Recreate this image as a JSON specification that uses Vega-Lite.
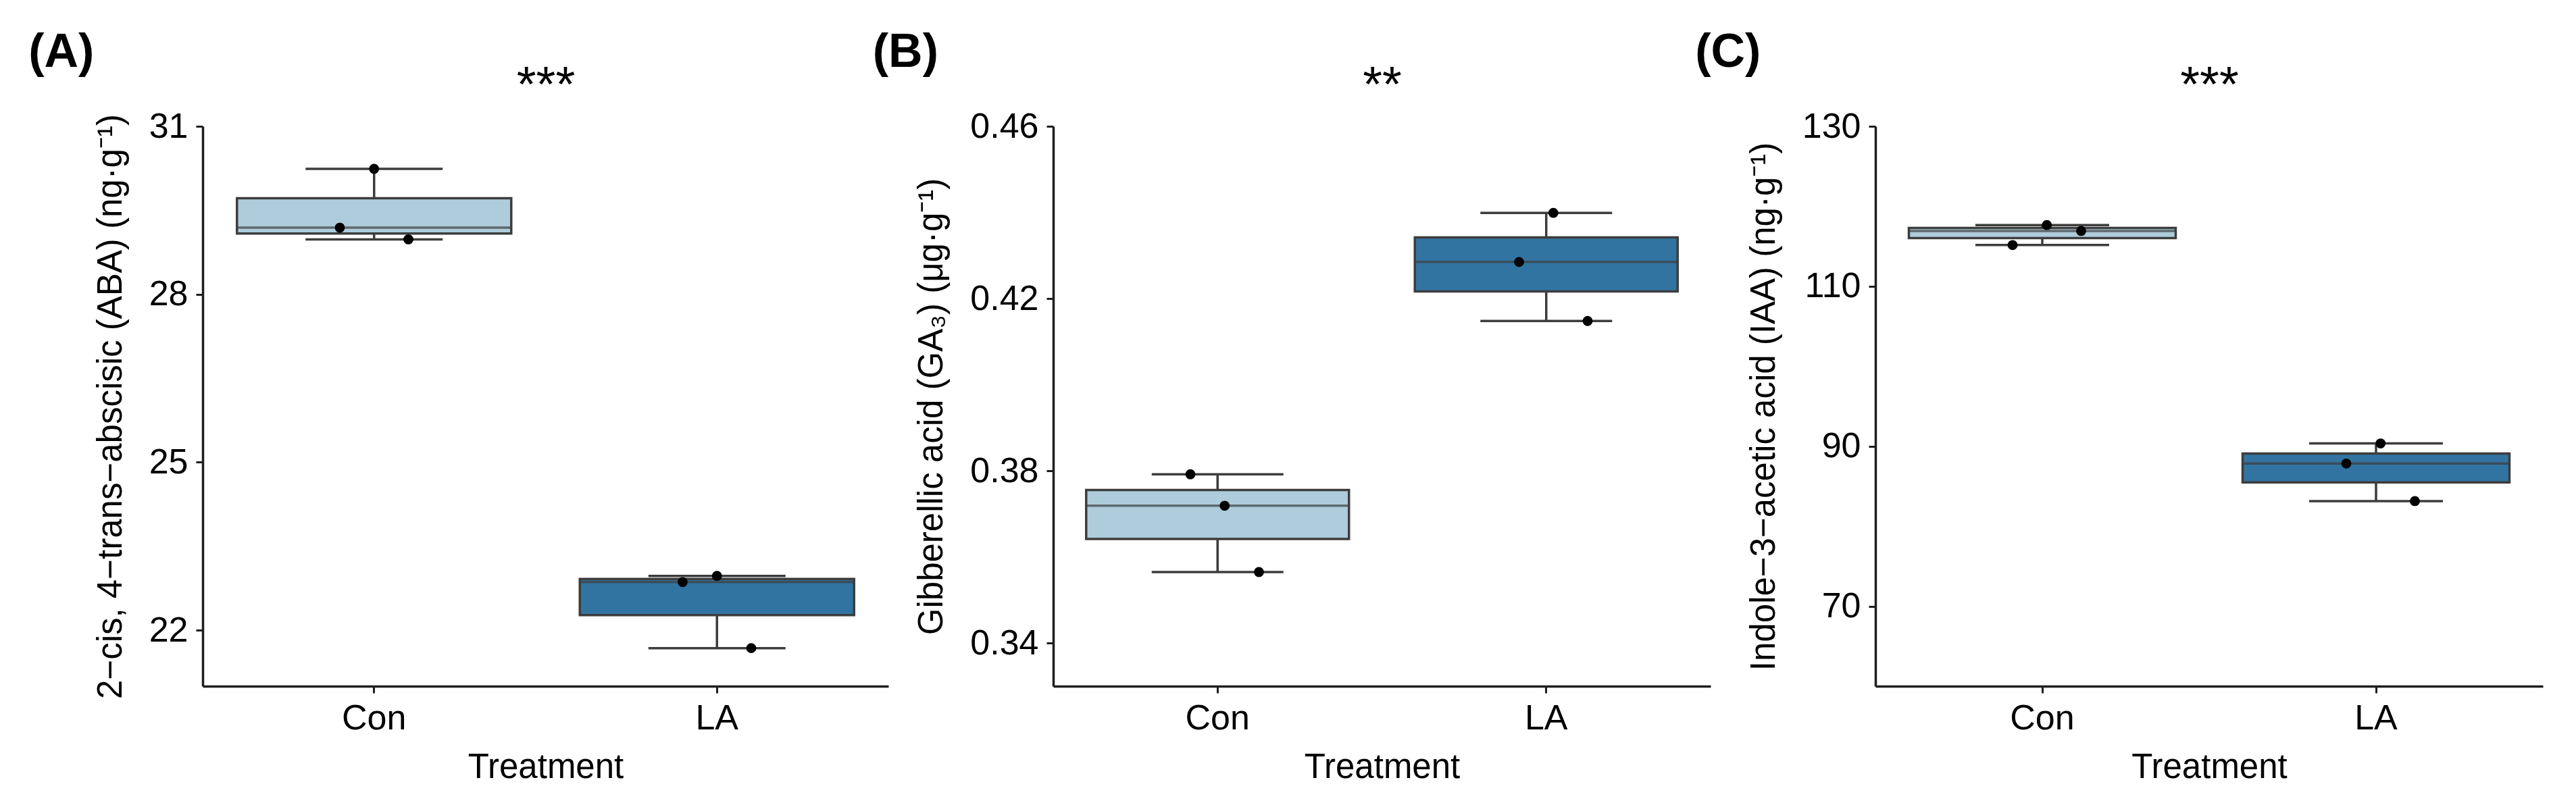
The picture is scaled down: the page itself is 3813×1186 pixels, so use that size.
{
  "$schema": "https://vega.github.io/schema/vega-lite/v6.json",
  "background": "white",
  "padding": {"left": 42, "top": 43, "right": 10, "bottom": 10},
  "datasets": {
    "hormones": [
      {"panel": "A", "Treatment": "Con", "rep": 2, "value": 30.24},
      {"panel": "A", "Treatment": "Con", "rep": 1, "value": 29.19},
      {"panel": "A", "Treatment": "Con", "rep": 3, "value": 28.98},
      {"panel": "A", "Treatment": "LA", "rep": 2, "value": 22.97},
      {"panel": "A", "Treatment": "LA", "rep": 1, "value": 22.86},
      {"panel": "A", "Treatment": "LA", "rep": 3, "value": 21.68},
      {"panel": "B", "Treatment": "Con", "rep": 1, "value": 0.3792},
      {"panel": "B", "Treatment": "Con", "rep": 2, "value": 0.3719},
      {"panel": "B", "Treatment": "Con", "rep": 3, "value": 0.3565},
      {"panel": "B", "Treatment": "LA", "rep": 2, "value": 0.4399},
      {"panel": "B", "Treatment": "LA", "rep": 1, "value": 0.4285},
      {"panel": "B", "Treatment": "LA", "rep": 3, "value": 0.4148},
      {"panel": "C", "Treatment": "Con", "rep": 2, "value": 117.66},
      {"panel": "C", "Treatment": "Con", "rep": 3, "value": 116.92},
      {"panel": "C", "Treatment": "Con", "rep": 1, "value": 115.15},
      {"panel": "C", "Treatment": "LA", "rep": 2, "value": 90.35},
      {"panel": "C", "Treatment": "LA", "rep": 1, "value": 87.84},
      {"panel": "C", "Treatment": "LA", "rep": 3, "value": 83.14}
    ]
  },
  "config": {
    "font": "Liberation Sans",
    "view": {"stroke": null},
    "axis": {
      "grid": false,
      "domainColor": "#1e1e1e",
      "domainWidth": 3.5,
      "tickColor": "#1e1e1e",
      "tickWidth": 3,
      "tickSize": 10,
      "labelFontSize": 52,
      "labelColor": "black",
      "labelPadding": 12,
      "titleFontSize": 51,
      "titleFontWeight": "normal",
      "titleColor": "black"
    },
    "axisX": {"labelAngle": 0, "titlePadding": 22},
    "axisY": {"titlePadding": 30},
    "title": {"color": "black", "fontSize": 70, "fontWeight": "bold", "anchor": "start", "offset": -24}
  },
  "bounds": "flush",
  "spacing": 244,
  "hconcat": [
    {
      "title": {"text": "(A)", "dx": -96},
      "width": 1015,
      "height": 829,
      "data": {"name": "hormones"},
      "transform": [{"filter": "datum.panel === 'A'"}],
      "encoding": {
        "y": {"field": "value", "type": "quantitative", "scale": {"domain": [21, 31], "zero": false, "nice": false}, "axis": {"values": [22, 25, 28, 31], "title": "2−cis, 4−trans−abscisic (ABA) (ng·g⁻¹)"}}
      },
      "layer": [
        {
          "mark": {"type": "boxplot", "extent": "min-max", "size": 406, "outliers": false,
            "box": {"stroke": "#3d3d3d", "strokeWidth": 3.5},
            "median": {"color": "#3d3d3d", "thickness": 3.5},
            "rule": {"color": "#3d3d3d", "strokeWidth": 3.5},
            "ticks": {"color": "#3d3d3d", "size": 203, "thickness": 3.5}},
          "encoding": {
            "x": {"field": "Treatment", "type": "nominal", "sort": ["Con", "LA"], "scale": {"paddingInner": 0, "paddingOuter": 0}, "axis": {"title": "Treatment"}},
            "color": {"field": "Treatment", "type": "nominal", "scale": {"domain": ["Con", "LA"], "range": ["#aeccdb", "#3274a1"]}, "legend": null}
          }
        },
        {
          "mark": {"type": "circle", "color": "black", "size": 220, "opacity": 1},
          "encoding": {
            "x": {"field": "Treatment", "type": "nominal", "sort": ["Con", "LA"], "axis": {"orient": "top", "title": "***", "labels": false, "ticks": false, "domain": false, "minExtent": 0, "titleFontSize": 74, "titlePadding": 22}},
            "xOffset": {"field": "rep", "type": "nominal", "scale": {"domain": [-3, -2, -1, 0, 1, 2, 3, 4, 5, 6, 7], "paddingInner": 0, "paddingOuter": 0}}
          }
        }
      ],
      "resolve": {"axis": {"x": "independent"}}
    },
    {
      "title": {"text": "(B)", "dx": -62},
      "width": 973,
      "height": 829,
      "data": {"name": "hormones"},
      "transform": [{"filter": "datum.panel === 'B'"}],
      "encoding": {
        "y": {"field": "value", "type": "quantitative", "scale": {"domain": [0.33, 0.46], "zero": false, "nice": false}, "axis": {"values": [0.34, 0.38, 0.42, 0.46], "format": ".2f", "title": "Gibberellic acid (GA₃) (μg·g⁻¹)"}}
      },
      "layer": [
        {
          "mark": {"type": "boxplot", "extent": "min-max", "size": 389, "outliers": false,
            "box": {"stroke": "#3d3d3d", "strokeWidth": 3.5},
            "median": {"color": "#3d3d3d", "thickness": 3.5},
            "rule": {"color": "#3d3d3d", "strokeWidth": 3.5},
            "ticks": {"color": "#3d3d3d", "size": 195, "thickness": 3.5}},
          "encoding": {
            "x": {"field": "Treatment", "type": "nominal", "sort": ["Con", "LA"], "scale": {"paddingInner": 0, "paddingOuter": 0}, "axis": {"title": "Treatment"}},
            "color": {"field": "Treatment", "type": "nominal", "scale": {"domain": ["Con", "LA"], "range": ["#aeccdb", "#3274a1"]}, "legend": null}
          }
        },
        {
          "mark": {"type": "circle", "color": "black", "size": 220, "opacity": 1},
          "encoding": {
            "x": {"field": "Treatment", "type": "nominal", "sort": ["Con", "LA"], "axis": {"orient": "top", "title": "**", "labels": false, "ticks": false, "domain": false, "minExtent": 0, "titleFontSize": 74, "titlePadding": 22}},
            "xOffset": {"field": "rep", "type": "nominal", "scale": {"domain": [-3, -2, -1, 0, 1, 2, 3, 4, 5, 6, 7], "paddingInner": 0, "paddingOuter": 0}}
          }
        }
      ],
      "resolve": {"axis": {"x": "independent"}}
    },
    {
      "title": {"text": "(C)", "dx": -76},
      "width": 988,
      "height": 829,
      "data": {"name": "hormones"},
      "transform": [{"filter": "datum.panel === 'C'"}],
      "encoding": {
        "y": {"field": "value", "type": "quantitative", "scale": {"domain": [60, 130], "zero": false, "nice": false}, "axis": {"values": [70, 90, 110, 130], "title": "Indole−3−acetic acid (IAA) (ng·g⁻¹)"}}
      },
      "layer": [
        {
          "mark": {"type": "boxplot", "extent": "min-max", "size": 395, "outliers": false,
            "box": {"stroke": "#3d3d3d", "strokeWidth": 3.5},
            "median": {"color": "#3d3d3d", "thickness": 3.5},
            "rule": {"color": "#3d3d3d", "strokeWidth": 3.5},
            "ticks": {"color": "#3d3d3d", "size": 198, "thickness": 3.5}},
          "encoding": {
            "x": {"field": "Treatment", "type": "nominal", "sort": ["Con", "LA"], "scale": {"paddingInner": 0, "paddingOuter": 0}, "axis": {"title": "Treatment"}},
            "color": {"field": "Treatment", "type": "nominal", "scale": {"domain": ["Con", "LA"], "range": ["#aeccdb", "#3274a1"]}, "legend": null}
          }
        },
        {
          "mark": {"type": "circle", "color": "black", "size": 220, "opacity": 1},
          "encoding": {
            "x": {"field": "Treatment", "type": "nominal", "sort": ["Con", "LA"], "axis": {"orient": "top", "title": "***", "labels": false, "ticks": false, "domain": false, "minExtent": 0, "titleFontSize": 74, "titlePadding": 22}},
            "xOffset": {"field": "rep", "type": "nominal", "scale": {"domain": [-3, -2, -1, 0, 1, 2, 3, 4, 5, 6, 7], "paddingInner": 0, "paddingOuter": 0}}
          }
        }
      ],
      "resolve": {"axis": {"x": "independent"}}
    }
  ]
}
